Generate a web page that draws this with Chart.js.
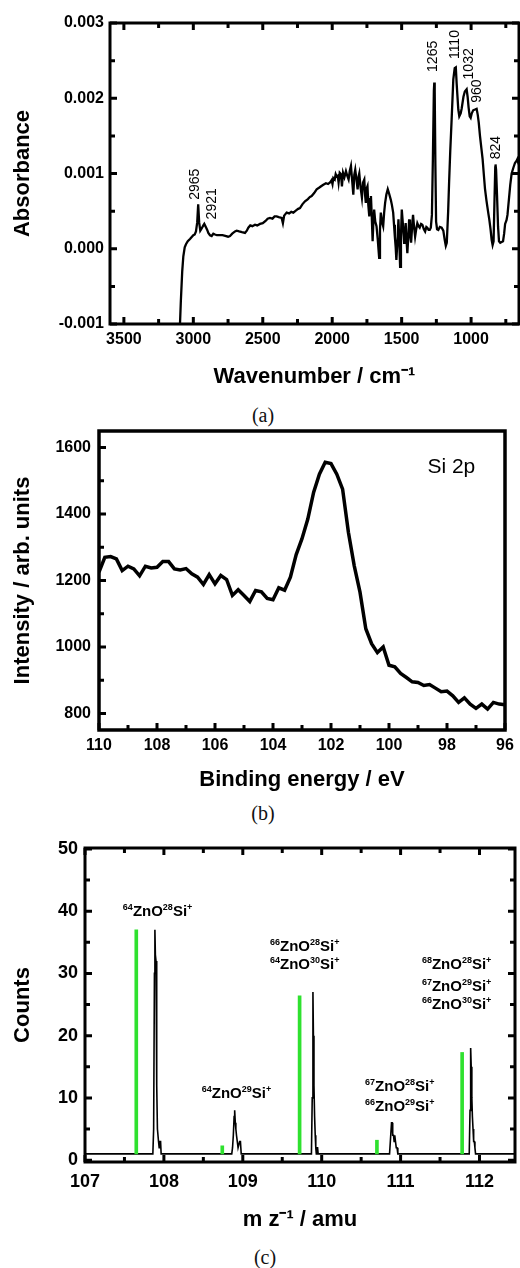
<!DOCTYPE html>
<html><head><meta charset="utf-8">
<script src="https://cdn.jsdelivr.net/npm/chart.js@4.4.1/dist/chart.umd.min.js"></script>
<style>
html,body{margin:0;padding:0;background:#fff;}
#wrap{position:relative;width:520px;height:1268px;overflow:hidden;background:#fff;}
canvas{position:absolute;left:0;}
.cap{position:absolute;width:60px;text-align:center;font-family:'Liberation Serif','DejaVu Serif',serif;font-size:20px;color:#111;line-height:24px;}
</style></head><body>
<div id="wrap">
<canvas id="ca" width="520" height="392" style="top:0"></canvas>
<div class="cap" style="left:233px;top:403px">(a)</div>
<canvas id="cb" width="520" height="375" style="top:420px"></canvas>
<div class="cap" style="left:233px;top:801px">(b)</div>
<canvas id="cc" width="520" height="400" style="top:835px"></canvas>
<div class="cap" style="left:235px;top:1245px">(c)</div>
</div>
<script>
// ---------- Panel (a): IR spectrum ----------
const irWavenumber = [3100,3090,3080,3072,3062,3053,3040,3024,3010,3000,2990,2981,2972,2965,2958,2950,2940,2928,2921,2910,2900,2892,2880,2868,2856,2844,2830,2808,2790,2770,2750,2736,2720,2700,2688,2670,2650,2628,2615,2604,2590,2575,2556,2540,2520,2500,2480,2465,2448,2430,2415,2400,2385,2364,2355,2346,2328,2310,2295,2280,2260,2245,2232,2215,2196,2175,2160,2148,2130,2112,2095,2080,2064,2045,2030,2016,2005,1998,1992,1982,1975,1968,1960,1954,1946,1937,1930,1922,1912,1901,1890,1882,1873,1865,1857,1848,1841,1834,1826,1817,1810,1805,1796,1786,1778,1769,1763,1758,1752,1746,1740,1733,1727,1721,1715,1709,1703,1698,1690,1681,1672,1662,1656,1650,1642,1633,1626,1619,1610,1600,1590,1578,1570,1561,1555,1549,1543,1538,1530,1523,1517,1511,1505,1499,1490,1482,1476,1471,1465,1459,1452,1446,1440,1432,1425,1418,1410,1403,1395,1387,1378,1370,1360,1351,1340,1331,1322,1315,1306,1298,1290,1282,1275,1268,1265,1262,1257,1252,1245,1236,1225,1212,1200,1190,1182,1175,1165,1158,1150,1140,1128,1118,1110,1104,1099,1092,1085,1075,1068,1055,1045,1032,1025,1018,1010,1003,995,985,972,960,952,945,936,925,917,908,900,890,883,875,869,860,852,845,838,832,826,824,820,813,806,799,790,780,770,762,755,745,738,728,718,708,695,684,672,667,660,655];
const irAbsorbance = [-0.0012,-0.0007,-0.0003,-0.0001,0.00002,0.00006,0.0001,0.00013,0.00016,0.00018,0.00019,0.00023,0.00035,0.00059,0.00035,0.00024,0.00027,0.00031,0.00033,0.00029,0.00025,0.00021,0.00018,0.00017,0.0002,0.00019,0.00018,0.00018,0.00018,0.00017,0.00016,0.00017,0.0002,0.00023,0.00024,0.00023,0.00022,0.00021,0.00024,0.00028,0.00031,0.0003,0.00032,0.00031,0.00033,0.00034,0.00037,0.0004,0.00041,0.0004,0.00043,0.00043,0.00042,0.00041,0.00034,0.00044,0.00048,0.00047,0.00049,0.00048,0.00051,0.00053,0.00054,0.00059,0.00063,0.00066,0.00069,0.0007,0.00074,0.00079,0.00081,0.00083,0.00085,0.00087,0.00086,0.00088,0.00091,0.00086,0.00094,0.00092,0.00099,0.00096,0.00097,0.00088,0.00101,0.00099,0.00083,0.00101,0.00095,0.00103,0.00096,0.00092,0.00104,0.0011,0.00092,0.00072,0.00098,0.00105,0.00093,0.00079,0.00096,0.001,0.00082,0.00068,0.00088,0.00092,0.00071,0.00061,0.0008,0.00083,0.00058,0.00043,0.00066,0.0007,0.00042,0.0001,0.00038,0.00052,0.00036,0.0003,0.00012,-0.00012,0.00025,0.00048,0.00036,0.0003,0.00048,0.00061,0.00072,0.00079,0.00073,0.00065,0.00058,0.00048,0.00032,0.00016,0.00002,-0.00015,0.00012,0.00039,0.0001,-0.00024,0.00015,0.00052,0.0003,0.00008,0.0002,0.00034,0.00012,-0.00006,0.00016,0.00039,0.00022,0.00008,0.00028,0.00045,0.00028,0.00016,0.00026,0.00034,0.0003,0.00028,0.00033,0.00032,0.00026,0.00023,0.00029,0.00028,0.00025,0.00025,0.00028,0.00045,0.0012,0.0021,0.00221,0.0021,0.0011,0.00036,0.00026,0.00025,0.00029,0.00028,0.00024,0.00012,0.00004,0.00008,0.0005,0.0009,0.0013,0.00172,0.00225,0.0024,0.00241,0.0022,0.00205,0.00185,0.00176,0.0018,0.00186,0.00202,0.00209,0.00212,0.00202,0.00188,0.00176,0.00174,0.0018,0.00184,0.00185,0.00186,0.00178,0.00168,0.0015,0.00132,0.00119,0.00098,0.0008,0.00065,0.00056,0.00046,0.00039,0.00026,0.00012,0.00005,0.0001,0.0006,0.00108,0.00112,0.00105,0.0007,0.0003,0.0001,0.00008,0.00009,0.0001,0.0002,0.00033,0.00038,0.00045,0.00065,0.00085,0.001,0.00108,0.00114,0.00117,0.00119,0.00114,0.00112];
const irTickValues = [3500,3000,2500,2000,1500,1000];
const irMinorTicks = [3250,2750,2250,1750,1250,750];
const absTickValues = [-0.001,0,0.001,0.002,0.003];
const absTickLabels = ['-0.001','0.000','0.001','0.002','0.003'];
const absMinorTicks = [-0.0005,0.0005,0.0015,0.0025];
const irPeakLabels = ['2965','2921','1265','1110','1032','960','824'];
const irPeakLabelX = [2984,2862,1274,1118,1015,954,821];
const irPeakLabelY = [0.00065,0.00039,0.00235,0.00252,0.00225,0.00194,0.00119];

// ---------- Panel (b): XPS Si 2p ----------
const xpsEnergy = [110.0,109.8,109.6,109.4,109.2,109.0,108.8,108.6,108.4,108.2,108.0,107.8,107.6,107.4,107.2,107.0,106.8,106.6,106.4,106.2,106.0,105.8,105.6,105.4,105.2,105.0,104.8,104.6,104.4,104.2,104.0,103.8,103.6,103.4,103.2,103.0,102.8,102.6,102.4,102.2,102.0,101.8,101.6,101.4,101.2,101.0,100.8,100.6,100.4,100.2,100.0,99.8,99.6,99.4,99.2,99.0,98.8,98.6,98.4,98.2,98.0,97.8,97.6,97.4,97.2,97.0,96.8,96.6,96.4,96.2,96.0];
const xpsIntensity = [1225,1270,1272,1265,1230,1243,1235,1214,1243,1238,1240,1257,1257,1235,1232,1236,1220,1210,1188,1218,1190,1215,1203,1155,1172,1155,1137,1170,1166,1146,1142,1178,1171,1210,1278,1326,1385,1465,1520,1556,1552,1520,1475,1345,1245,1165,1055,1010,983,1000,945,940,920,908,895,893,884,887,876,865,867,853,833,847,828,815,828,813,833,828,826];
const beTickValues = [110,108,106,104,102,100,98,96];
const beMinorTicks = [109,107,105,103,101,99,97];
const intTickValues = [800,1000,1200,1400,1600];
const intMinorTicks = [900,1100,1300,1500];
const xpsLabel = 'Si 2p';
const xpsLabelX = 97.85;
const xpsLabelY = 1546;

// ---------- Panel (c): mass spectrum ----------
const msMass = [107.0,107.86,107.87,107.88,107.886,107.892,107.9,107.906,107.912,107.918,107.925,107.932,107.94,107.95,107.958,107.965,
  108.86,108.87,108.88,108.89,108.897,108.905,108.912,108.92,108.93,108.94,108.95,108.96,108.97,108.98,
  109.87,109.88,109.889,109.895,109.902,109.91,109.918,109.925,109.932,109.94,109.948,109.955,
  110.86,110.875,110.885,110.893,110.9,110.91,110.918,110.926,110.935,110.945,110.955,110.965,
  111.87,111.88,111.888,111.895,111.903,111.91,111.918,111.926,111.934,111.942,111.95,112.5];
const msCounts = [1,1,5,30,37,33,32,28,12,5,5,3,2,3,3,1,
  1,2,4,7,8,6,5,4,3,2,2,3,3,1,
  1,10,27,20,12,7,4,2,1,2,2,1,
  1,4,6,6,4,4,3,4,3,2,2,1,
  1,8,18,15,10,7,5,3,3,2,1,1];
const calcMass = [107.65,108.74,109.72,110.70,111.78];
const calcCounts = [37,2.3,26.4,3.2,17.3];
const calcBase = 1;
const mzTickValues = [107,108,109,110,111,112];
const mzMinorTicks = [107.5,108.5,109.5,110.5,111.5];
const cntTickValues = [0,10,20,30,40,50];
const cntMinorTicks = [5,15,25,35,45];
const ionLabels = ['{64}ZnO{28}Si{+}','{66}ZnO{28}Si{+}','{64}ZnO{30}Si{+}','{68}ZnO{28}Si{+}','{67}ZnO{29}Si{+}','{66}ZnO{30}Si{+}','{64}ZnO{29}Si{+}','{67}ZnO{28}Si{+}','{66}ZnO{29}Si{+}'];
const ionLabelX = [107.92,109.785,109.785,111.71,111.71,111.71,108.92,110.99,110.99];
const ionLabelY = [40.1,34.5,31.6,31.5,28.1,25.2,10.9,12.0,8.8];

// ---------- helpers ----------
const FAM = "'Liberation Sans', Arial, Helvetica, sans-serif";
Chart.defaults.font.family = FAM;
Chart.defaults.color = '#000';
Chart.defaults.animation = false;

function drawRich(ctx, text, cx, cy, size, weight) {
  const segs = []; const re = /\{([^}]*)\}|([^{]+)/g; let m;
  while ((m = re.exec(text))) segs.push(m[1] !== undefined ? {t: m[1], sup: true} : {t: m[2], sup: false});
  const mainFont = weight + ' ' + size + 'px ' + FAM;
  const supFont = weight + ' ' + Math.round(size * 0.62) + 'px ' + FAM;
  let total = 0;
  segs.forEach(s => { ctx.font = s.sup ? supFont : mainFont; s.w = ctx.measureText(s.t).width; total += s.w; });
  let x = cx - total / 2; const base = cy + size * 0.36;
  ctx.textAlign = 'left'; ctx.textBaseline = 'alphabetic';
  segs.forEach(s => { ctx.font = s.sup ? supFont : mainFont; ctx.fillText(s.t, x, s.sup ? base - size * 0.4 : base); x += s.w; });
}

// one plugin per chart: frame, inward tick marks (major/minor), text notes
function decorPlugin(o) {
  return {
    id: 'decor' + o.name,
    afterDatasetsDraw(chart) {
      const ctx = chart.ctx; const a = chart.chartArea;
      const xs = chart.scales.x, ys = chart.scales.y;
      ctx.save();
      ctx.fillStyle = '#000';
      (o.notes || []).forEach(it => {
        const px = xs.getPixelForValue(it.x), py = ys.getPixelForValue(it.y);
        if (it.rotate) {
          ctx.save(); ctx.translate(px, py); ctx.rotate(-Math.PI / 2);
          ctx.font = it.size + 'px ' + FAM; ctx.textAlign = 'left'; ctx.textBaseline = 'middle';
          ctx.fillText(it.text, 0, 0); ctx.restore();
        } else {
          drawRich(ctx, it.text, px, py, it.size, it.weight);
        }
      });
      ctx.strokeStyle = '#000';
      ctx.lineWidth = 3;
      ctx.beginPath();
      const L = a.left, R = a.right, T = a.top, B = a.bottom;
      const xt = (vals, len) => { for (const v of vals) {
        const p = xs.getPixelForValue(v);
        ctx.moveTo(p, B); ctx.lineTo(p, B - len);
        if (o.mirror) { ctx.moveTo(p, T); ctx.lineTo(p, T + len); }
      } };
      const yt = (vals, len) => { for (const v of vals) {
        const p = ys.getPixelForValue(v);
        ctx.moveTo(L, p); ctx.lineTo(L + len, p);
        if (o.mirror) { ctx.moveTo(R, p); ctx.lineTo(R - len, p); }
      } };
      xt(o.xMajor, 7); xt(o.xMinor, 5); yt(o.yMajor, 7); yt(o.yMinor, 5);
      ctx.stroke();
      ctx.lineWidth = o.frameWidth;
      ctx.beginPath();
      ctx.rect(L, T, R - L, B - T);
      ctx.stroke();
      ctx.restore();
    }
  };
}

function fixBox(dim) {
  return s => {
    if (dim.w !== undefined) s.width = dim.w;
    if (dim.h !== undefined) s.height = dim.h;
    s.paddingLeft = 0; s.paddingRight = 0; s.paddingTop = 0; s.paddingBottom = 0;
  };
}

function axisX(o) {
  return {
    type: 'linear', reverse: !!o.reverse, min: o.min, max: o.max, offset: false,
    grid: {display: false, drawTicks: false}, border: {display: false},
    afterBuildTicks: s => { s.ticks = o.ticks.map(v => ({value: v})); },
    afterFit: fixBox({h: o.h}),
    ticks: {autoSkip: false, maxRotation: 0, minRotation: 0, padding: o.pad,
      font: {size: o.fs, weight: 'bold'}, color: '#000',
      callback: v => (o.labels ? o.labels[o.ticks.indexOf(v)] : String(v))},
    title: {display: true, text: o.title, font: {size: 22, weight: 'bold'}, color: '#000', padding: {top: 0, bottom: 2}}
  };
}
function axisY(o) {
  return {
    type: 'linear', min: o.min, max: o.max,
    grid: {display: false, drawTicks: false}, border: {display: false},
    afterBuildTicks: s => { s.ticks = o.ticks.map(v => ({value: v})); },
    afterFit: fixBox({w: o.w}),
    ticks: {autoSkip: false, padding: o.pad, font: {size: o.fs, weight: 'bold'}, color: '#000',
      callback: v => (o.labels ? o.labels[o.ticks.indexOf(v)] : String(v))},
    title: {display: true, text: o.title, font: {size: 22, weight: 'bold'}, color: '#000', padding: {top: 10, bottom: 0}}
  };
}

// ---------- Chart (a) ----------
new Chart(document.getElementById('ca'), {
  type: 'line',
  data: {datasets: [{
    data: irWavenumber.map((w, i) => ({x: w, y: irAbsorbance[i]})),
    borderColor: '#000', borderWidth: 2.3, pointRadius: 0, tension: 0, fill: false
  }]},
  options: {
    responsive: false, devicePixelRatio: 1,
    layout: {padding: {top: 23, right: 1, left: 0, bottom: 0}},
    plugins: {legend: {display: false}, tooltip: {enabled: false}},
    scales: {
      x: axisX({reverse: true, min: 655, max: 3600, ticks: irTickValues, h: 68, pad: 6, fs: 16, title: 'Wavenumber / cm⁻¹'}),
      y: axisY({min: -0.001, max: 0.003, ticks: absTickValues, labels: absTickLabels, w: 110, pad: 6, fs: 16, title: 'Absorbance'})
    }
  },
  plugins: [decorPlugin({name: 'A', xMajor: irTickValues, xMinor: irMinorTicks, yMajor: absTickValues, yMinor: absMinorTicks, mirror: true, frameWidth: 3,
    notes: irPeakLabels.map((t, i) => ({text: t, x: irPeakLabelX[i], y: irPeakLabelY[i], rotate: true, size: 14}))})]
});

// ---------- Chart (b) ----------
new Chart(document.getElementById('cb'), {
  type: 'line',
  data: {datasets: [{
    data: xpsEnergy.map((e, i) => ({x: e, y: xpsIntensity[i]})),
    borderColor: '#000', borderWidth: 3.5, pointRadius: 0, tension: 0, fill: false
  }]},
  options: {
    responsive: false, devicePixelRatio: 1,
    layout: {padding: {top: 11, right: 15, left: 0, bottom: 0}},
    plugins: {legend: {display: false}, tooltip: {enabled: false}},
    scales: {
      x: axisX({reverse: true, min: 96, max: 110, ticks: beTickValues, h: 65, pad: 6, fs: 16, title: 'Binding energy / eV'}),
      y: axisY({min: 750, max: 1650, ticks: intTickValues, w: 99, pad: 8, fs: 16, title: 'Intensity / arb. units'})
    }
  },
  plugins: [decorPlugin({name: 'B', xMajor: beTickValues, xMinor: beMinorTicks, yMajor: intTickValues, yMinor: intMinorTicks, mirror: false, frameWidth: 3.5,
    notes: [{text: xpsLabel, x: xpsLabelX, y: xpsLabelY, size: 21, weight: 'normal'}]})]
});

// ---------- Chart (c) ----------
new Chart(document.getElementById('cc'), {
  type: 'line',
  data: {datasets: [
    {type: 'bar', data: calcMass.map((m, i) => ({x: m, y: [calcBase, calcCounts[i]]})),
      backgroundColor: '#2fe12f', borderWidth: 0, barThickness: 3, grouped: false},
    {type: 'line', data: msMass.map((m, i) => ({x: m, y: msCounts[i]})),
      borderColor: '#000', borderWidth: 1.6, pointRadius: 0, tension: 0, fill: false}
  ]},
  options: {
    responsive: false, devicePixelRatio: 1,
    layout: {padding: {top: 13, right: 5, left: 0, bottom: 0}},
    plugins: {legend: {display: false}, tooltip: {enabled: false}},
    scales: {
      x: axisX({min: 107, max: 112.45, ticks: mzTickValues, h: 73, pad: 9, fs: 18, title: 'm z⁻¹ / amu'}),
      y: axisY({min: -0.3, max: 50.15, ticks: cntTickValues, w: 85, pad: 7, fs: 18, title: 'Counts'})
    }
  },
  plugins: [decorPlugin({name: 'C', xMajor: mzTickValues, xMinor: mzMinorTicks, yMajor: cntTickValues, yMinor: cntMinorTicks, mirror: true, frameWidth: 3,
    notes: ionLabels.map((t, i) => ({text: t, x: ionLabelX[i], y: ionLabelY[i], size: 15, weight: 'bold'}))})]
});
</script>
</body></html>
